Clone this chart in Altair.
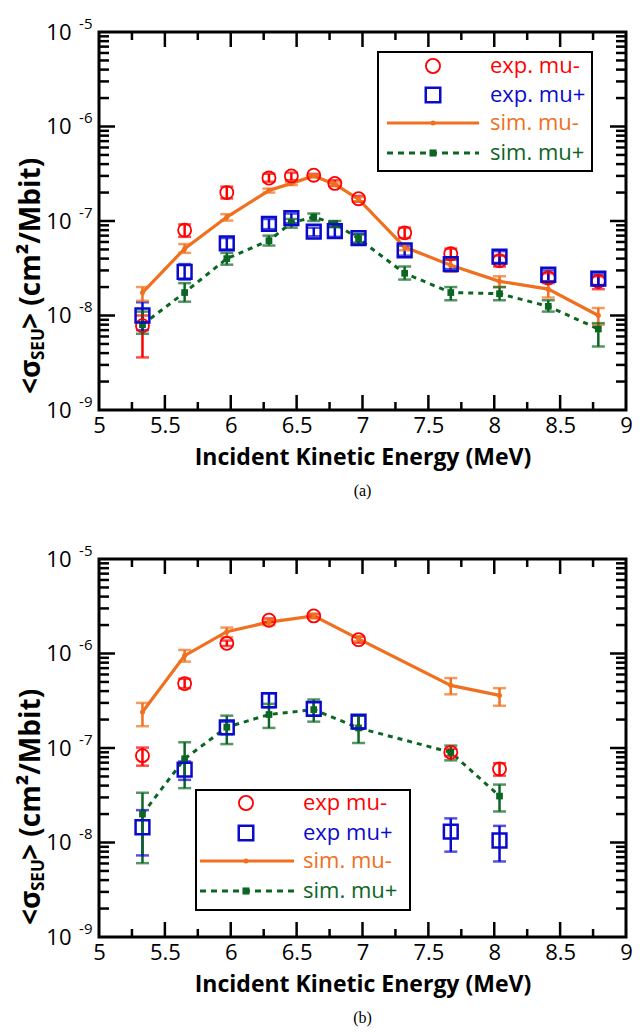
import altair as alt
import pandas as pd

# ---------------- data ----------------
# Panel (a)
E_A = [5.33, 5.65, 5.97, 6.29, 6.46, 6.63, 6.79, 6.97, 7.32, 7.67, 8.04, 8.41, 8.79]
EXPM_A = [7.8e-9, 8.0e-8, 2.0e-7, 2.85e-7, 3.0e-7, 3.05e-7, 2.5e-7, 1.72e-7, 7.5e-8, 4.5e-8, 3.8e-8, 2.5e-8, 2.3e-8]
EXPM_A_HI = [1.0e-8, 9.2e-8, 2.31e-7, 3.16e-7, 3.25e-7, 3.15e-7, 2.7e-7, 1.84e-7, 8.5e-8, 5.1e-8, 4.3e-8, 2.8e-8, 2.6e-8]
EXPM_A_LO = [3.6e-9, 6.8e-8, 1.73e-7, 2.6e-7, 2.7e-7, 2.95e-7, 2.35e-7, 1.6e-7, 6.6e-8, 3.9e-8, 3.3e-8, 2.2e-8, 1.9e-8]
EXPP_A = [1.0e-8, 2.9e-8, 5.8e-8, 9.3e-8, 1.07e-7, 7.7e-8, 7.8e-8, 6.6e-8, 4.9e-8, 3.5e-8, 4.2e-8, 2.7e-8, 2.45e-8]
EXPP_A_HI = [1.38e-8, 3.5e-8, 6.6e-8, 1.05e-7, 1.2e-7, 8.5e-8, 8.7e-8, 7.3e-8, 5.5e-8, 3.9e-8, 4.8e-8, 3.0e-8, 2.75e-8]
EXPP_A_LO = [7.0e-9, 2.4e-8, 5.0e-8, 8.2e-8, 9.5e-8, 6.9e-8, 6.8e-8, 5.9e-8, 4.3e-8, 3.1e-8, 3.6e-8, 2.3e-8, 2.1e-8]
SIMM_A = [1.75e-8, 5.1e-8, 1.1e-7, 2.1e-7, 2.5e-7, 3.0e-7, 2.45e-7, 1.7e-7, 5.3e-8, 3.4e-8, 2.3e-8, 1.9e-8, 1.0e-8]
SIMM_A_HI = [2.0e-8, 5.7e-8, 1.18e-7, 2.2e-7, 2.6e-7, 3.1e-7, 2.55e-7, 1.78e-7, 5.7e-8, 3.9e-8, 2.6e-8, 2.3e-8, 1.2e-8]
SIMM_A_LO = [1.43e-8, 4.6e-8, 1.01e-7, 2.0e-7, 2.4e-7, 2.9e-7, 2.35e-7, 1.62e-7, 4.9e-8, 2.9e-8, 2.0e-8, 1.55e-8, 8.0e-9]
SIMP_A = [8.0e-9, 1.75e-8, 4.0e-8, 6.2e-8, 9.6e-8, 1.1e-7, 9.4e-8, 6.5e-8, 2.8e-8, 1.75e-8, 1.7e-8, 1.25e-8, 7.2e-9]
SIMP_A_HI = [1.1e-8, 2.2e-8, 4.6e-8, 7.0e-8, 1.05e-7, 1.2e-7, 1.0e-7, 7.2e-8, 3.3e-8, 2.0e-8, 2.0e-8, 1.45e-8, 8.3e-9]
SIMP_A_LO = [6.4e-9, 1.4e-8, 3.45e-8, 5.5e-8, 8.5e-8, 1.0e-7, 8.6e-8, 5.7e-8, 2.4e-8, 1.45e-8, 1.45e-8, 1.1e-8, 4.7e-9]

# Panel (b)
E_B = [5.33, 5.65, 5.97, 6.29, 6.63, 6.97, 7.67, 8.04]
EXPM_B = [8.3e-8, 4.8e-7, 1.28e-6, 2.25e-6, 2.5e-6, 1.4e-6, 9.0e-8, 6.0e-8]
EXPM_B_HI = [1.01e-7, 5.4e-7, 1.37e-6, 2.35e-6, 2.6e-6, 1.5e-6, 9.8e-8, 6.9e-8]
EXPM_B_LO = [6.5e-8, 4.3e-7, 1.2e-6, 2.15e-6, 2.4e-6, 1.3e-6, 8.2e-8, 5.1e-8]
EXPP_B = [1.45e-8, 5.9e-8, 1.65e-7, 3.2e-7, 2.6e-7, 1.9e-7, 1.3e-8, 1.05e-8]
EXPP_B_HI = [2.2e-8, 7.2e-8, 1.9e-7, 3.8e-7, 3.05e-7, 2.2e-7, 1.8e-8, 1.5e-8]
EXPP_B_LO = [7.3e-9, 4.6e-8, 1.4e-7, 2.7e-7, 2.2e-7, 1.6e-7, 8.0e-9, 6.3e-9]
SIMM_B = [2.4e-7, 9.5e-7, 1.7e-6, 2.15e-6, 2.5e-6, 1.43e-6, 4.6e-7, 3.6e-7]
SIMM_B_HI = [3.0e-7, 1.09e-6, 1.88e-6, 2.3e-6, 2.65e-6, 1.52e-6, 5.5e-7, 4.3e-7]
SIMM_B_LO = [1.7e-7, 8.2e-7, 1.49e-6, 2.0e-6, 2.35e-6, 1.35e-6, 3.7e-7, 2.8e-7]
SIMP_B = [2.0e-8, 7.7e-8, 1.66e-7, 2.26e-7, 2.55e-7, 1.63e-7, 9.0e-8, 3.1e-8]
SIMP_B_HI = [3.36e-8, 1.15e-7, 2.2e-7, 2.93e-7, 3.26e-7, 2.2e-7, 1.06e-7, 4.1e-8]
SIMP_B_LO = [6.05e-9, 3.76e-8, 1.1e-7, 1.63e-7, 1.9e-7, 1.13e-7, 7.4e-8, 2.13e-8]

SERIES = ["exp mu-", "exp mu+", "sim mu-", "sim mu+"]
LEGEND_A = ["exp. mu-", "exp. mu+", "sim. mu-", "sim. mu+"]
LEGEND_B = ["exp mu-", "exp mu+", "sim. mu-", "sim. mu+"]
X_LABELS = [5, 5.5, 6, 6.5, 7, 7.5, 8, 8.5, 9]
X_MAJ = [5.5, 6, 6.5, 7, 7.5, 8, 8.5]
X_MIN = [5.25, 5.75, 6.25, 6.75, 7.25, 7.75, 8.25, 8.75]
Y_LABELS = [1e-9, 1e-8, 1e-7, 1e-6, 1e-5]
Y_MAJ = [1e-8, 1e-7, 1e-6]
Y_MIN = [k * 10.0 ** e for e in (-9, -8, -7, -6) for k in range(2, 10)]

# ---------------- style ----------------
RED = "#FF0000"
BLUE = "#0A0ACC"
ORANGE = "#F07020"
GREEN = "#0B6623"
COLORS = [RED, BLUE, ORANGE, GREEN]
FONT = "Open Sans"
W, H = 527, 378

XS = alt.Scale(domain=[5, 9], nice=False, zero=False)
YS = alt.Scale(type="log", domain=[1e-9, 1e-5], nice=False)
CS = alt.Scale(domain=SERIES, range=COLORS)


def frame(E, v, lo, hi, name):
    return pd.DataFrame({"E": E, "v": v, "lo": lo, "hi": hi, "s": name})


X_AXIS = alt.Axis(orient="bottom", values=X_LABELS, ticks=False, domain=False, grid=False,
                  format="~g", labelFont=FONT, labelFontSize=22, labelColor="black", labelPadding=5,
                  labelFlush=False, labelOverlap=False,
                  title="Incident Kinetic Energy (MeV)", titleFont=FONT, titleFontSize=23,
                  titleFontWeight="bold", titleColor="black", titlePadding=10)
Y_AXIS_TEN = alt.Axis(orient="left", values=Y_LABELS, ticks=False, domain=False, grid=False,
                      labelExpr="'10'", labelFont=FONT, labelFontSize=22, labelColor="black",
                      labelPadding=28, labelOverlap=False, labelFlush=False, title=None)
Y_AXIS_EXP = alt.Axis(orient="left", values=Y_LABELS, ticks=False, domain=False, grid=False,
                      labelExpr="'' + round(log(datum.value) / LN10)", labelFont=FONT,
                      labelFontSize=15, labelColor="black", labelPadding=7, labelOffset=-9,
                      labelOverlap=False, labelFlush=False, title=None)


def tick_layers():
    """Inward-pointing ticks on all four sides, positioned through the shared scales."""
    out = []
    for vals, ln in ((Y_MAJ, 16), (Y_MIN, 10)):
        df = pd.DataFrame({"t": vals})
        out.append(alt.Chart(df).mark_rule(color="black", strokeWidth=2.5)
                   .encode(y=alt.Y("t:Q", scale=YS, axis=None), x=alt.value(0), x2=alt.value(ln)))
        out.append(alt.Chart(df).mark_rule(color="black", strokeWidth=2.5)
                   .encode(y=alt.Y("t:Q", scale=YS, axis=None), x=alt.value(W - ln), x2=alt.value(W)))
    for vals, ln in ((X_MAJ, 15), (X_MIN, 8)):
        df = pd.DataFrame({"t": vals})
        out.append(alt.Chart(df).mark_rule(color="black", strokeWidth=2.5)
                   .encode(x=alt.X("t:Q", scale=XS, axis=None), y=alt.value(H - ln), y2=alt.value(H)))
        out.append(alt.Chart(df).mark_rule(color="black", strokeWidth=2.5)
                   .encode(x=alt.X("t:Q", scale=XS, axis=None), y=alt.value(0), y2=alt.value(ln)))
    return out


def make_panel(E, sets, legend_labels, leg, ylab_bottom, caption):
    dfs = [frame(E, *sets[i], SERIES[i]) for i in range(4)]
    alldf = pd.concat(dfs, ignore_index=True)

    def xy(xa, ya, yfield="v:Q"):
        return dict(x=alt.X("E:Q", scale=XS, axis=xa), y=alt.Y(yfield, scale=YS, axis=ya))

    layers = tick_layers()
    layers.append(alt.Chart(dfs[3]).mark_line(color=GREEN, strokeWidth=3, strokeDash=[5, 5])
                  .encode(**xy(X_AXIS, Y_AXIS_TEN)))
    layers.append(alt.Chart(dfs[2]).mark_line(color=ORANGE, strokeWidth=3.2)
                  .encode(**xy(None, Y_AXIS_EXP)))
    layers.append(alt.Chart(alldf).mark_rule(strokeWidth=2.5)
                  .encode(**xy(None, None, "lo:Q"), y2="hi:Q",
                          color=alt.Color("s:N", scale=CS, legend=None)))
    layers.append(alt.Chart(alldf).transform_fold(["lo", "hi"], as_=["k", "yv"])
                  .mark_tick(orient="horizontal", size=13, thickness=2.5)
                  .encode(**xy(None, None, "yv:Q"),
                          color=alt.Color("s:N", scale=CS, legend=None)))
    layers.append(alt.Chart(dfs[3]).mark_point(shape="square", filled=True, color=GREEN, size=45, opacity=1)
                  .encode(**xy(None, None)))
    layers.append(alt.Chart(dfs[2]).mark_point(shape="circle", filled=True, color=ORANGE, size=25, opacity=1)
                  .encode(**xy(None, None)))
    layers.append(alt.Chart(dfs[0]).mark_point(shape="circle", filled=False, color=RED, size=170,
                                               strokeWidth=1.8, opacity=1)
                  .encode(**xy(None, None)))
    layers.append(alt.Chart(dfs[1]).mark_point(shape="square", filled=False, color=BLUE, size=190,
                                               strokeWidth=2.5, opacity=1)
                  .encode(**xy(None, None)))

    # legend box
    one = pd.DataFrame({"a": [0]})
    bx0, bx1, by0, by1, cx, lx0, lx1, tx, rows = leg
    layers.append(alt.Chart(one).mark_rect(fill="white", stroke="black", strokeWidth=2)
                  .encode(x=alt.value(bx0), x2=alt.value(bx1), y=alt.value(by0), y2=alt.value(by1)))
    layers.append(alt.Chart(one).mark_point(shape="circle", filled=False, color=RED, size=200,
                                            strokeWidth=1.8, opacity=1)
                  .encode(x=alt.value(cx), y=alt.value(rows[0])))
    layers.append(alt.Chart(one).mark_point(shape="square", filled=False, color=BLUE, size=210,
                                            strokeWidth=2.5, opacity=1)
                  .encode(x=alt.value(cx), y=alt.value(rows[1])))
    layers.append(alt.Chart(one).mark_rule(color=ORANGE, strokeWidth=3)
                  .encode(x=alt.value(lx0), x2=alt.value(lx1), y=alt.value(rows[2])))
    layers.append(alt.Chart(one).mark_point(shape="circle", filled=True, color=ORANGE, size=25, opacity=1)
                  .encode(x=alt.value(cx), y=alt.value(rows[2])))
    layers.append(alt.Chart(one).mark_rule(color=GREEN, strokeWidth=3, strokeDash=[6, 5])
                  .encode(x=alt.value(lx0), x2=alt.value(lx1), y=alt.value(rows[3])))
    layers.append(alt.Chart(one).mark_point(shape="square", filled=True, color=GREEN, size=50, opacity=1)
                  .encode(x=alt.value(cx), y=alt.value(rows[3])))
    for i in range(4):
        layers.append(alt.Chart(one).mark_text(text=legend_labels[i], color=COLORS[i], align="left",
                                               baseline="middle", font=FONT, fontSize=22)
                      .encode(x=alt.value(tx), y=alt.value(rows[i])))

    # y-axis title built from pieces (subscript SEU)
    w1, w2 = 34, 31
    layers.append(alt.Chart(one).mark_text(text="<σ", angle=270, align="left", baseline="middle",
                                           font=FONT, fontSize=28, fontWeight="bold", color="black")
                  .encode(x=alt.value(-67), y=alt.value(ylab_bottom)))
    layers.append(alt.Chart(one).mark_text(text="SEU", angle=270, align="left", baseline="middle",
                                           font=FONT, fontSize=17, fontWeight="bold", color="black")
                  .encode(x=alt.value(-60), y=alt.value(ylab_bottom - w1)))
    layers.append(alt.Chart(one).mark_text(text=">  (cm²/Mbit)", angle=270, align="left",
                                           baseline="middle", font=FONT, fontSize=28,
                                           fontWeight="bold", color="black")
                  .encode(x=alt.value(-67), y=alt.value(ylab_bottom - w1 - w2)))

    return alt.layer(*layers).resolve_axis(x="independent", y="independent").properties(
        width=W, height=H,
        title=alt.TitleParams(caption, orient="bottom", font="Liberation Serif", fontSize=16,
                              fontWeight="normal", color="black", offset=14))


LEG_A = (279, 493, 20, 139, 334, 288, 380, 391, [34, 63, 91, 121])
LEG_B = (97, 311, 231, 351, 147, 101, 195, 204, [244, 274, 302, 332])

pa = make_panel(E_A, [(EXPM_A, EXPM_A_LO, EXPM_A_HI), (EXPP_A, EXPP_A_LO, EXPP_A_HI),
                      (SIMM_A, SIMM_A_LO, SIMM_A_HI), (SIMP_A, SIMP_A_LO, SIMP_A_HI)],
                LEGEND_A, LEG_A, 362, "(a)")
pb = make_panel(E_B, [(EXPM_B, EXPM_B_LO, EXPM_B_HI), (EXPP_B, EXPP_B_LO, EXPP_B_HI),
                      (SIMM_B, SIMM_B_LO, SIMM_B_HI), (SIMP_B, SIMP_B_LO, SIMP_B_HI)],
                LEGEND_B, LEG_B, 366, "(b)")

chart = alt.vconcat(pa, pb, spacing=40).configure_view(stroke="black", strokeWidth=3).properties(
    padding={"left": 16, "top": 14, "right": 5, "bottom": 5})

chart.save("out.html", embed_options={"renderer": "svg", "actions": False})
